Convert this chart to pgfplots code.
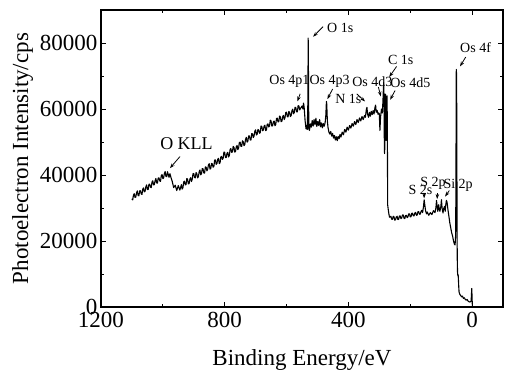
\documentclass[border=0pt]{standalone}
\usepackage{pgfplots}
\pgfplotsset{compat=1.18}
\usepackage{fontspec}
\setmainfont{Liberation Serif}
\usetikzlibrary{arrows.meta}
\begin{document}
\begin{tikzpicture}
\begin{axis}[
  at={(0,0)}, anchor=south west,
  scale only axis, width=402pt, height=297pt,
  x dir=reverse, xmin=-100, xmax=1200, ymin=0, ymax=90000,
  xtick={0,400,800,1200}, minor xtick={200,600,1000},
  ytick={0,20000,40000,60000,80000}, minor ytick={10000,30000,50000,70000},
  tick align=inside, major tick length=5pt, minor tick length=3pt,
  tick style={black, line width=0.9pt},
  axis line style={line width=1.1pt},
  scaled y ticks=false,
  /pgf/number format/assume math mode=true,
  /pgf/number format/fixed,
  /pgf/number format/1000 sep={},
  tick label style={font=\fontsize{23}{23}\selectfont},
  xticklabel style={yshift=-2pt},
  label style={font=\fontsize{23}{23}\selectfont},
  xlabel={Binding Energy/eV},
  ylabel={Photoelectron Intensity/cps},
  xlabel style={at={(axis description cs:0.5,-0.1785)}, anchor=center},
  ylabel style={at={(axis description cs:-0.1948,0.5)}, anchor=center},
  clip=false,
]
\addplot[black, line width=1.1pt, mark=none, line join=round] coordinates {
(1100,32800)(1097.5,32450)(1095,33900)(1092.5,34350)(1090,33200)(1087.5,33300)(1085,34600)(1082.5,35200)
(1080,33800)(1077.5,33700)(1075,35200)(1072.5,35250)(1070,34300)(1067.5,34100)(1065,35700)(1062.5,36100)
(1060,34900)(1057.5,35050)(1055,36400)(1052.5,37000)(1050,35600)(1047.5,35600)(1045,37200)(1042.5,37250)
(1040,36300)(1037.5,36200)(1035,37900)(1032.5,38250)(1030,37000)(1027.5,37050)(1025,38300)(1022.5,38950)
(1020,37600)(1017.5,37550)(1015,39100)(1012.5,39150)(1010,38200)(1007.5,38100)(1005,39800)(1002.5,40150)
(1000,38900)(997.5,39100)(995,40500)(992.5,41050)(990,39600)(987.5,39500)(985,41000)
(980,39300)(977,40400)(973,39000)(970,38200)(965,36200)(960,36900)(955,35300)(950,36800)(945,35400)
(940,37100)(937.5,35730)(935,36160)(932.5,37940)(930,38125)(927.5,37010)(925,37090)(922.5,38920)
(920,38750)(917.5,37280)(915,37410)(912.5,38790)(910,39175)(907.5,38030)(905,38690)(902.5,40375)
(900,40460)(897.5,39205)(895,39150)(892.5,40745)(890,40340)(887.5,39130)(885,39520)(882.5,41015)
(880,41510)(877.5,40055)(875,40400)(872.5,41940)(870,41880)(867.5,40625)(865,40570)(862.5,42465)
(860,42360)(857.5,41255)(855,41750)(852.5,43090)(850,43435)(847.5,41800)(845,41970)(842.5,43490)
(840,43405)(837.5,42370)(835,42540)(832.5,44560)(830,44575)(827.5,43240)(825,43505)(822.5,44775)
(820,45045)(817.5,43460)(815,43680)(812.5,45450)(810,45620)(807.5,44730)(805,45045)(802.5,46965)
(800,46885)(797.5,45300)(795,45320)(792.5,46590)(790,46860)(787.5,45470)(785,45885)(782.5,47750)
(780,48020)(777.5,46890)(775,46960)(772.5,48670)(770,48385)(767.5,46955)(765,47125)(762.5,48540)
(760,48960)(757.5,47680)(755,48200)(752.5,49865)(750,49930)(747.5,48700)(745,48665)(742.5,50380)
(740,50100)(737.5,48880)(735,49255)(732.5,50840)(730,51425)(727.5,49955)(725,50285)(722.5,51870)
(720,51850)(717.5,50630)(715,50615)(712.5,52545)(710,52475)(707.5,51355)(705,51835)(702.5,53270)
(700,53700)(697.5,52130)(695,52365)(692.5,53795)(690,53625)(687.5,52650)(685,52870)(682.5,54830)
(680,54790)(677.5,53415)(675,53640)(672.5,54865)(670,55090)(667.5,53465)(665,53640)(662.5,55360)
(660,55480)(657.5,54555)(655,54830)(652.5,56600)(650,56365)(647.5,54840)(645,54910)(642.5,56130)
(640,56350)(637.5,54925)(635,55300)(632.5,57080)(630,57255)(627.5,56090)(625,56130)(622.5,57870)
(620,57610)(617.5,56150)(615,56290)(612.5,57680)(610,58065)(607.5,56800)(605,57340)(602.5,58980)
(600,59020)(597.5,57710)(595,57600)(592.5,59290)(590,58980)(587.5,57720)(585,58055)(582.5,59500)
(580,59940)(577.5,58540)(575,58940)(572.5,60490)(570,60435)(567.5,59180)(565,59130)(562.5,61030)
(560,60930)(557.5,59730)(555,60130)
(550,60900)(547,60000)(545,61800)(543,60500)(540,56500)(537,54000)(535,55000)(533,53800)
(531,62000)(530,81500)(529,70000)(528,54000)(526,53500)(523,55500)(520,54500)(517,56500)
(514,54800)(511,56800)(508,55200)(505,57200)(502,54700)(499,56200)(496,55000)(493,56800)
(490,54600)(487,55800)(484,54300)(481,55600)(478,54800)(475,56000)(473,58000)(471,62300)
(470,61500)(468,56500)(466,54500)(463,53000)(460,52400)(457,53200)(454,51800)(451,52600)
(448,51200)(445,52000)(442,50600)(439,51600)(436,50400)(433,51700)(430,51000)(427,52300)
(424,51500)(420,53000)(416,52200)(412,53800)(408,53000)(404,54500)(400,53600)(396,55000)
(392,54200)(388,55600)(384,54800)(380,56200)(376,55300)(372,56800)(368,55900)(364,57300)
(360,56400)(356,57700)(352,56800)(348,58000)(345,57500)(342,59800)(340,60500)(338,58500)
(335,57500)(332,59000)(329,57800)(326,59300)(323,58300)(320,59500)(317,58500)(314,60500)
(312,61200)(310,59000)(307,59600)(304,58400)(302,58800)
(300,58500)(298,53500)(296,57500)(293,60000)(290,58800)(288,63000)(286,68000)(285,65000)
(284,52000)(283,46500)(282,49000)(281,63500)(280,64500)(279,58000)(278,50500)(277,52000)
(276,63000)(275,64000)(274,55000)(273,31000)(271,29500)(269,28200)(267,27200)(265,27400)
(262.5,27500)(260,26600)(257.5,26550)(255,27500)(252.5,27300)(250,26300)(247.5,26500)(245,27300)
(242.5,27500)(240,26500)(237.5,26550)(235,27600)(232.5,27600)(230,26800)(227.5,26950)(225,27900)
(222.5,27900)(220,26900)(217.5,26800)(215,27700)(212.5,27800)(210,27100)(207.5,27250)(205,28200)
(202.5,28250)(200,27300)(197.5,27350)(195,28400)(192.5,28400)(190,27600)(187.5,27650)(185,28500)
(182.5,28650)(180,27800)(177.5,27850)(175,28900)(172.5,28900)(170,28100)(167.5,28150)(165,29000)
(162.5,29300)(160,28600)(157,30500)(155,32500)(153,31000)
(150,29000)(147,28200)(145,28800)(140,27800)(135,28600)(130,28000)(125,29200)(120,28600)
(117,30000)(115,32300)(113,30500)(111,29000)(108,31000)(106,29500)(104,29000)(101,30500)
(99,32500)(97,30000)(94,28500)(92,29800)(89,30500)(87,29000)(85,31000)(83,32300)
(81,31800)(78,29500)(75,27500)(72,25500)(69,24000)(66,22500)(63,21500)(60,20000)
(57,19000)(55,18800)(53,22000)(52,45000)(51,72000)(50,70000)(49,40000)(48,15000)
(47,10500)(46,9500)(45,9800)(44,8000)(43,6000)(42,4500)(40,3900)(37,3500)
(34,3100)(31,3300)(28,2600)(25,2800)(22,2300)(19,2100)(16,2300)(13,1800)
(10,1600)(7,1500)(4,1700)(3,1900)(2,3800)(1,5600)(0,3000)(-1,0)
};
\tikzset{lab/.style={anchor=west, inner sep=0pt, font=\fontsize{14}{14}\selectfont},
         arr/.style={-{Stealth[length=5pt,width=3.5pt]}, line width=0.8pt}}
\node[anchor=west, inner sep=0pt, font=\fontsize{18}{18}\selectfont] at (axis cs:1009,49450) {O KLL};
\draw[arr] (axis cs:944.5,45600) -- (axis cs:977,42080);
\node[lab] at (axis cs:656,68300) {Os 4p1};
\draw[arr] (axis cs:556,64600) -- (axis cs:565,62300);
\node[lab] at (axis cs:526,68300) {Os 4p3};
\draw[arr] (axis cs:451,66050) -- (axis cs:468,63000);
\node[lab] at (axis cs:469,84600) {O 1s};
\draw[arr] (axis cs:482,84950) -- (axis cs:514,81900);
\node[lab] at (axis cs:443,62950) {N 1s};
\draw[arr] (axis cs:373,64600) -- (axis cs:346,62300);
\node[lab] at (axis cs:388,68300) {Os 4d3};
\draw[arr] (axis cs:303,66650) -- (axis cs:295,63800);
\node[lab] at (axis cs:272,74900) {C 1s};
\draw[arr] (axis cs:244,72900) -- (axis cs:268,69700);
\node[lab] at (axis cs:265,68000) {Os 4d5};
\draw[arr] (axis cs:249,65600) -- (axis cs:265,62800);
\node[lab] at (axis cs:39,78600) {Os 4f};
\draw[arr] (axis cs:20.5,75760) -- (axis cs:39,72900);
\node[lab] at (axis cs:206,35500) {S 2s};
\draw[arr] (axis cs:155,34600) -- (axis cs:155,32900);
\node[lab] at (axis cs:168,37600) {S 2p};
\draw[arr] (axis cs:112,34500) -- (axis cs:113,32700);
\node[lab] at (axis cs:93,37000) {Si 2p};
\draw[arr] (axis cs:73.5,35300) -- (axis cs:87.5,33460);
\end{axis}
\pgfresetboundingbox
\path (-101pt,-69pt) rectangle (404pt,307pt);
\end{tikzpicture}
\end{document}
